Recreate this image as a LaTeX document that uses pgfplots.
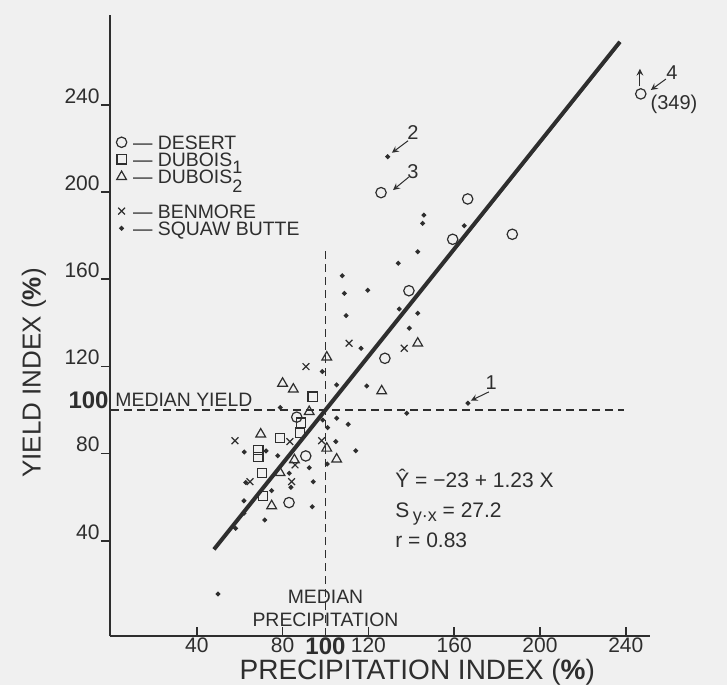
\documentclass[border=0pt]{standalone}
\usepackage{fontspec}
\setmainfont{Liberation Sans}
\setsansfont{Liberation Sans}
\usepackage{pgfplots}
\pgfplotsset{compat=1.18}
\definecolor{ink}{gray}{0.18}
\definecolor{paper}{gray}{0.94}

\begin{document}
\begin{tikzpicture}
\path[use as bounding box, fill=paper] (-55pt,-24.5pt) rectangle (308.5pt,318pt);
\begin{axis}[
    at={(0,0)}, anchor=south west,
    scale only axis, width=270pt, height=310.5pt,
    xmin=-0.47, xmax=251.3, ymin=-3.7, ymax=281.2,
    clip=false,
    axis x line*=bottom, axis y line*=left,
    axis line style={ink, line width=1pt, -},
    xtick={40,80,120,160,200,240},
    ytick={40,80,120,160,200,240},
    xtick align=inside, ytick align=outside,
    major tick length=4.5pt,
    tick style={ink, line width=0.8pt},
    extra x ticks={100}, extra x tick labels={100},
    extra y ticks={100}, extra y tick labels={100},
    extra tick style={major tick length=0pt,
        tick label style={font=\bfseries\fontsize{12}{12}\selectfont}},
    /pgf/number format/assume math mode=true,
    tick label style={font=\fontsize{10.5}{10.5}\selectfont, text=ink},
    xticklabel style={inner sep=0.5pt},
    yticklabel style={anchor=south east, inner sep=0.5pt},
    xlabel={PRECIPITATION INDEX ({\bfseries\%})},
    ylabel={YIELD INDEX ({\bfseries\%})},
    xlabel style={at={(axis description cs:0.569,-0.059)}, anchor=center,
        font=\fontsize{14}{14}\selectfont, text=ink},
    ylabel style={at={(axis description cs:-0.141,0.4235)}, anchor=center,
        font=\fontsize{13}{13}\selectfont, text=ink},
    legend style={at={(axis description cs:-0.022,0.815)}, anchor=north west,
        draw=none, fill=none, font=\fontsize{9.7}{9.7}\selectfont,
        text=ink, row sep=0.6pt,
        nodes={inner sep=0.5pt, text height=7pt, text depth=0pt}},
    legend cell align=left,
    every axis plot/.append style={ink, line width=0.6pt},
]

% regression line  Y = -23 + 1.23 X
\addplot[forget plot, ink, line width=2pt] coordinates {(48,36.04) (237.3,268.9)};
% median lines
\addplot[forget plot, ink, line width=0.6pt, dash pattern=on 4pt off 2.5pt]
    coordinates {(0,100) (239,100)};
\addplot[forget plot, ink, line width=0.6pt, dash pattern=on 4pt off 2.5pt]
    coordinates {(100,-3.7) (100,174)};

% Desert
\addplot[only marks, mark=o, mark size=2.6pt] coordinates {
    (127.7,123.7) (86.6,96.7) (90.8,78.9) (83.0,57.5) (125.9,199.7)
    (166.3,196.8) (159.3,178.3) (187.1,180.6) (138.9,154.7) (247,245)
};
\addlegendentry{\ --- DESERT}
% Dubois 1
\addplot[only marks, mark=square, mark size=2.3pt] coordinates {
    (94.0,106.1) (88.6,94.2) (88.1,89.6) (78.8,87.0) (68.7,81.7)
    (68.7,78.3) (70.3,71.0) (71.0,60.6)
};
\addlegendentry{\ --- DUBOIS\raisebox{-3.5pt}{\small 1}}
% Dubois 2
\addplot[only marks, mark=triangle, mark size=2.8pt] coordinates {
    (100.6,124.2) (80.0,112.2) (85.0,109.5) (126.2,108.7) (92.4,99.2)
    (69.8,88.9) (100.6,82.4) (105.2,77.4) (85.5,77.1) (78.8,71.2)
    (74.9,56.0) (143.0,130.6)
};
\addlegendentry{\ --- DUBOIS\raisebox{-4.5pt}{\small 2}}
\addlegendimage{empty legend}
\addlegendentry{}
% Benmore
\addplot[only marks, mark=x, mark size=2.4pt] coordinates {
    (111.0,130.6) (90.9,119.9) (57.8,85.9) (83.4,85.5) (98.2,85.9)
    (64.8,67.1) (85.8,74.8) (84.2,67.1) (136.7,128.3)
};
\addlegendentry{\ --- BENMORE}
% Squaw Butte
\addplot[only marks, mark=*, mark size=0.9pt] coordinates {
    (109.6,143.3) (116.6,128.3) (98.5,117.6) (105.2,111.5) (119.2,111.0)
    (78.9,101.1) (101.0,91.9) (105.2,96.2) (110.6,93.4) (104.8,85.5)
    (114.1,81.3) (62.1,80.7) (72.3,81.2) (77.7,79.0) (100.8,75.2)
    (92.4,73.5) (83.1,71.0) (62.8,66.7) (94.3,67.1) (83.9,64.5)
    (74.9,63.0) (62.0,58.3) (93.8,55.6) (62.0,52.6) (71.7,49.5)
    (58.1,45.7) (98.7,95.4) (129.0,216.2) (145.9,189.4) (145.3,185.6)
    (164.7,184.5) (143.0,172.6) (133.9,167.3) (107.8,161.6) (108.8,153.5)
    (119.7,154.9) (134.4,146.3) (143.0,144.4) (139.1,137.5) (166.4,103.1)
    (137.9,98.5) (49.9,15.6)
};
\addlegendentry{\ --- SQUAW BUTTE}

% text annotations
\begin{scope}[every node/.style={text=ink, font=\fontsize{9.7}{9.7}\selectfont, inner sep=0pt}]
\node[anchor=base west] at (axis cs:1.9,101.5) {MEDIAN YIELD};
\node[anchor=base] at (axis cs:100,11.0) {MEDIAN};
\node[anchor=base] at (axis cs:100,0.5) {PRECIPITATION};
\end{scope}
\begin{scope}[every node/.style={text=ink, font=\fontsize{10.5}{10.5}\selectfont, inner sep=0pt, anchor=base west}]
\node at (axis cs:132.4,64.2) {Ŷ = −23 + 1.23 X};
\node at (axis cs:132.4,50.5) {S\,\raisebox{-2pt}{\small y·x} = 27.2};
\node at (axis cs:132.4,36.7) {r = 0.83};
\end{scope}
\begin{scope}[every node/.style={text=ink, font=\fontsize{10}{10}\selectfont, inner sep=0pt}]
\node at (axis cs:140.8,227.5) {2};
\node at (axis cs:140.8,209.2) {3};
\node at (axis cs:177.2,112.4) {1};
\node at (axis cs:261.5,254.6) {4};
\node at (axis cs:262.5,240.0) {(349)};
\end{scope}
\draw[ink, line width=0.5pt, -stealth] (axis cs:138.5,223.5) -- (axis cs:131.0,218.0);
\draw[ink, line width=0.5pt, -stealth] (axis cs:138.9,206.9) -- (axis cs:131.5,200.9);
\draw[ink, line width=0.5pt, -stealth] (axis cs:176.2,108.3) -- (axis cs:167.8,104.3);
\draw[ink, line width=0.5pt, -stealth] (axis cs:258.7,251.8) -- (axis cs:251.7,246.8);
\draw[ink, line width=0.5pt, -stealth] (axis cs:246.6,248.5) -- (axis cs:246.6,256.5);
\end{axis}
\end{tikzpicture}
\end{document}
